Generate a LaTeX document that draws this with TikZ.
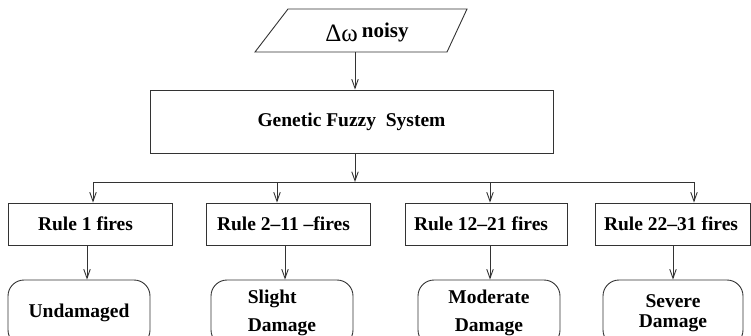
\documentclass[tikz,border=0pt]{standalone}
\usepackage{fontspec}
\setmainfont{Liberation Serif}
\usetikzlibrary{arrows.meta}
\begin{document}
\begin{tikzpicture}[x=1pt,y=-1pt,
  line/.style={draw=black!80, line width=0.9pt},
  arr/.style={line, -{Straight Barb[length=9pt,width=6.5pt]}},
  rulebox/.style={line, rectangle, inner sep=0pt, minimum height=42pt,
    font=\fontsize{19.5}{23}\selectfont\bfseries},
  outcome/.style={line, rectangle, rounded corners=16pt, inner sep=0pt,
    minimum height=66pt, font=\fontsize{19.5}{23}\selectfont\bfseries},
]
\useasboundingbox (0,0) rectangle (751,335);

% input parallelogram
\coordinate (p1) at (288,9);
\coordinate (p2) at (467,9);
\coordinate (p3) at (447,52);
\coordinate (p4) at (255,52);
\draw[line] (p1) -- (p2) -- (p3) -- (p4) -- cycle;
\node[anchor=base, inner sep=0pt] (inp) at (367,41)
  {{\fontsize{25}{25}\selectfont Δω}\hspace{4pt}\raisebox{4pt}{\fontsize{21}{21}\selectfont\bfseries noisy}};
\coordinate (inpout) at (355,52);

% central system
\node[line, rectangle, minimum width=403pt, minimum height=63pt, inner sep=0pt,
  font=\fontsize{19.5}{23}\selectfont\bfseries] (gfs) at (351.5,121.5)
  {Genetic Fuzzy\ \ System};
\draw[arr] (inpout) -- (inpout |- gfs.north);

% rule boxes
\node[rulebox, minimum width=164pt] (r1) at (90,224) {Rule 1 fires\hspace*{9pt}};
\node[rulebox, minimum width=164pt] (r2) at (288,224) {Rule 2--11 --fires\hspace*{9pt}};
\node[rulebox, minimum width=162pt] (r3) at (486,224) {Rule 12--21 fires\hspace*{10pt}};
\node[rulebox, minimum width=155pt] (r4) at (673,224) {Rule 22--31 fires\hspace*{4pt}};

% distribution bus
\coordinate (bus) at (355,182);
\coordinate (b1) at (93,182);
\coordinate (b2) at (277,182);
\coordinate (b3) at (490,182);
\coordinate (b4) at (694,182);
\draw[arr] (bus |- gfs.south) -- (bus);
\draw[line] (b1) -- (b4);
\draw[arr] (b1) -- (b1 |- r1.north);
\draw[arr] (b2) -- (b2 |- r2.north);
\draw[arr] (b3) -- (b3 |- r3.north);
\draw[arr] (b4) -- (b4 |- r4.north);

% outcomes
\node[outcome, minimum width=142pt] (o1) at (79,313) {Undamaged};
\node[outcome, minimum width=142pt, align=left] (o2) at (282,313) {Slight\\[5pt]Damage};
\node[outcome, minimum width=142pt, align=center] (o3) at (489,313) {Moderate\\[5pt]Damage};
\node[outcome, minimum width=140pt, align=center] (o4) at (673,313) {Severe\\[-3pt]Damage};

\coordinate (d1) at (87,245);
\coordinate (d2) at (285,245);
\coordinate (d3) at (490,245);
\coordinate (d4) at (673,245);
\draw[arr] (d1) -- (d1 |- o1.north);
\draw[arr] (d2) -- (d2 |- o2.north);
\draw[arr] (d3) -- (d3 |- o3.north);
\draw[arr] (d4) -- (d4 |- o4.north);
\end{tikzpicture}
\end{document}
